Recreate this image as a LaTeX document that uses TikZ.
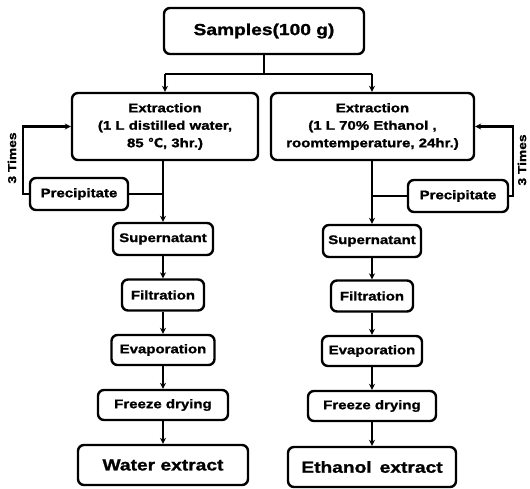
\documentclass[tikz,border=0pt]{standalone}
\usepackage{fontspec}
\setmainfont{Liberation Sans}[FakeStretch=1.2, BoldFeatures={FakeBold=1.2}]
\newfontfamily\sym{DejaVu Sans}[BoldFeatures={FakeBold=1.2}]
\usetikzlibrary{arrows.meta}
\begin{document}
\begin{tikzpicture}[x=1pt,y=-1pt,
 box/.style={draw, line width=2.4pt, rounded corners=6pt, align=center, inner sep=0pt, font=\bfseries\fontsize{12.5}{17.5}\selectfont},
 big/.style={box, font=\bfseries\fontsize{16}{18}\selectfont},
 conn/.style={line width=2.4pt},
 arr/.style={conn, -{Stealth[length=6pt,width=6pt]}},
 side/.style={rotate=90, font=\bfseries\fontsize{11.5}{13}\selectfont, inner sep=0pt}]
\useasboundingbox (0,0) rectangle (530,489);
\node[big, minimum width=200pt, minimum height=46pt] (s) at (264,31) {Samples(100 g)};
\node[box, minimum width=186pt, minimum height=67pt] (eL) at (165,126.5) {Extraction\\(1 L distilled water,\\85 {\sym ℃}, 3hr.)};
\node[box, minimum width=203pt, minimum height=67pt] (eR) at (372.5,126.5) {Extraction\\(1 L 70\% Ethanol ,\\roomtemperature, 24hr.)};
\node[box, minimum width=98pt, minimum height=32pt] (pL) at (79,194) {Precipitate};
\node[box, minimum width=100pt, minimum height=32pt] (pR) at (458,196) {Precipitate};
\node[box, minimum width=100pt, minimum height=32pt] (suL) at (163,239) {Supernatant};
\node[box, minimum width=98pt, minimum height=32pt] (suR) at (372,241) {Supernatant};
\node[box, minimum width=82pt, minimum height=31pt] (fL) at (163,295) {Filtration};
\node[box, minimum width=82pt, minimum height=31pt] (fR) at (372,296) {Filtration};
\node[box, minimum width=103pt, minimum height=30pt] (evL) at (163,350) {Evaporation};
\node[box, minimum width=100pt, minimum height=30pt] (evR) at (372,351) {Evaporation};
\node[box, minimum width=130pt, minimum height=30pt] (frL) at (163,405) {Freeze drying};
\node[box, minimum width=128pt, minimum height=30pt] (frR) at (372,406) {Freeze drying};
\node[big, minimum width=170pt, minimum height=40pt] (wL) at (163,465) {Water extract};
\node[big, minimum width=168pt, minimum height=40pt] (wR) at (372,467) {Ethanol\enspace extract};
\node[side] (tL) at (12,158) {3 Times};
\node[side] (tR) at (522,160) {3 Times};
\coordinate (jl) at (165,74);
\coordinate (jr) at (372,74);
\coordinate (lL) at (23,0);
\coordinate (lR) at (513,0);
\draw[conn] (s.south) -- (s.south |- jl);
\draw[conn] (jl) -- (jr);
\draw[arr] (jl) -- (jl |- eL.north);
\draw[arr] (jr) -- (jr |- eR.north);
\draw[arr] (eL.south -| suL.north) -- (suL.north);
\draw[arr] (eR.south -| suR.north) -- (suR.north);
\draw[conn] (pL.east) -- (pL.east -| suL.north);
\draw[conn] (pR.west) -- (pR.west -| suR.north);
\draw[arr] (pL.west) -- (pL.west -| lL) -- (lL |- eL.west) -- (eL.west);
\draw[arr] (pR.east) -- (pR.east -| lR) -- (lR |- eR.east) -- (eR.east);
\draw[arr] (suL) -- (fL);
\draw[arr] (fL) -- (evL);
\draw[arr] (evL) -- (frL);
\draw[arr] (frL) -- (wL);
\draw[arr] (suR) -- (fR);
\draw[arr] (fR) -- (evR);
\draw[arr] (evR) -- (frR);
\draw[arr] (frR) -- (wR);
\end{tikzpicture}
\end{document}
